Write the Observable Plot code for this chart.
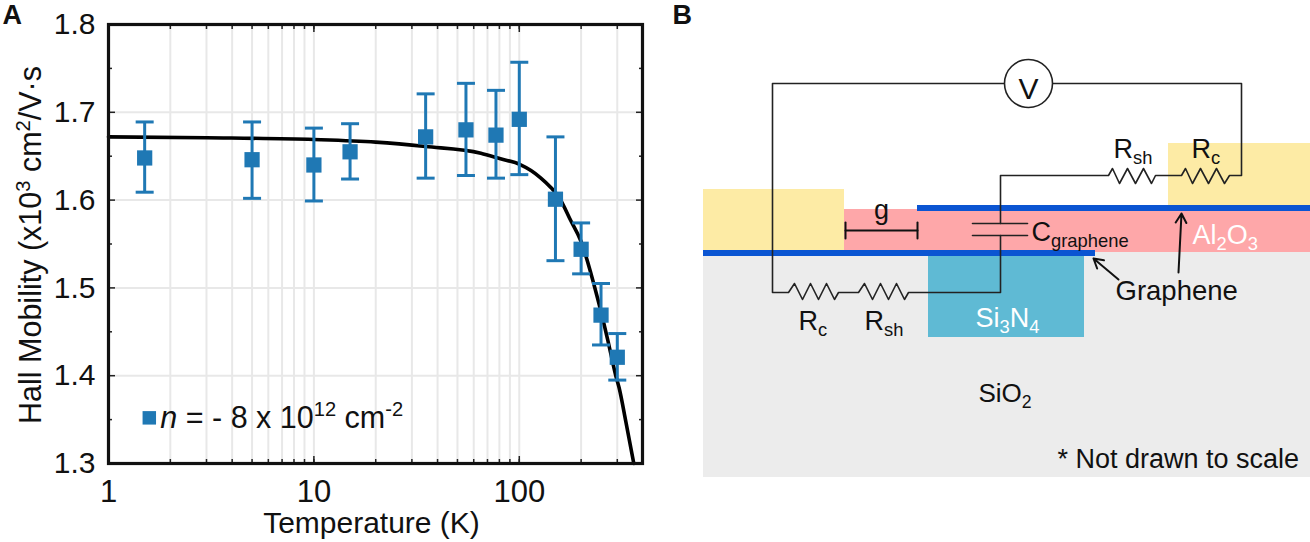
<!DOCTYPE html>
<html>
<head>
<meta charset="utf-8">
<script src="https://cdn.jsdelivr.net/npm/d3@7"></script>
<script src="https://cdn.jsdelivr.net/npm/@observablehq/plot@0.6"></script>
<style>
  html, body { margin: 0; padding: 0; background: #fff; }
  #wrap { position: relative; width: 1310px; height: 542px; overflow: hidden; font-family: "Liberation Sans", Arial, sans-serif; }
  #a, #b { position: absolute; top: 0; }
  #a { left: 0; } #b { left: 660px; }
  svg { display: block; }
</style>
</head>
<body>
<div id="wrap"><div id="a"></div><div id="b"></div></div>
<script>
// ---------- Panel A data ----------
const temperature = [1.5, 5, 10, 15, 35, 55, 77, 100, 150, 200, 250, 300];
const mobility    = [1.648, 1.646, 1.640, 1.655, 1.672, 1.680, 1.674, 1.692, 1.601, 1.544, 1.469, 1.421];
const errLow      = [1.609, 1.602, 1.599, 1.624, 1.625, 1.628, 1.625, 1.629, 1.531, 1.516, 1.435, 1.395];
const errHigh     = [1.689, 1.689, 1.682, 1.687, 1.721, 1.733, 1.725, 1.757, 1.672, 1.574, 1.505, 1.448];
const fitT = [1, 3, 10, 20, 35, 65, 81, 101, 114, 127, 142, 156, 178, 199, 240, 270, 295, 306, 330, 361];
const fitM = [1.672, 1.671, 1.669, 1.666, 1.661, 1.6534, 1.647, 1.6405, 1.6337, 1.6254, 1.6147, 1.6033, 1.5768, 1.554, 1.489, 1.440, 1.400, 1.3865, 1.348, 1.300];
const xMajor = [1, 10, 100];
const xGrid = [2,3,4,5,6,7,8,9,10,20,30,40,50,60,70,80,90,100,200,300];
const yMajor = [1.3, 1.4, 1.5, 1.6, 1.7, 1.8];
const yMinor = [1.35, 1.45, 1.55, 1.65, 1.75];
const legendEntry = [{t: 1.58, m: 1.352, label: "*n* = - 8 x 10^{12} cm^{-2}"}];
const points = temperature.map((t, i) => ({t, m: mobility[i], lo: errLow[i], hi: errHigh[i]}));
const fit = fitT.map((t, i) => ({t, m: fitM[i]}));

// ---------- Panel B data (schematic units) ----------
const layers = [
  {name: "SiO2",  x1: 703,  x2: 1310, y1: 250, y2: 477, c: "#ececec"},
  {name: "Al2O3", x1: 844,  x2: 1310, y1: 209, y2: 252, c: "#fea7a9"},
  {name: "metalL",x1: 703,  x2: 844,  y1: 189, y2: 250, c: "#fdeba5"},
  {name: "metalR",x1: 1168, x2: 1310, y1: 143, y2: 205, c: "#fdeba5"},
  {name: "Si3N4", x1: 928,  x2: 1084, y1: 256, y2: 337, c: "#5fbad4"},
  {name: "grTop", x1: 917,  x2: 1310, y1: 205, y2: 211, c: "#0b55d2"},
  {name: "grBot", x1: 703,  x2: 1095, y1: 250, y2: 256, c: "#0b55d2"}
];
const wireLeft = [[1004,83],[772,83],[772,292],[788,292],[794,283],[802,299],[810,283],[818,299],[826,283],[834,299],[838,292],[858,292],[864,283],[872,299],[880,283],[888,299],[896,283],[904,299],[908,292],[1000,292],[1000,235]];
const wireRight = [[1052,83],[1241,83],[1241,175],[1229,175],[1224,183],[1216,168],[1208,183],[1200,168],[1192,183],[1185,168],[1181,175],[1155,175],[1151,183],[1143,168],[1135,183],[1127,168],[1119,183],[1112,168],[1108,175],[1000,175],[1000,223]];
const plates = [[[972,223],[1027,223]],[[972,235],[1027,235]]];
const gapBar = [[[845,230],[917,230]],[[845,222],[845,238]],[[917,222],[917,238]]];
const arrows = [{x1:1118,y1:279,x2:1093,y2:258},{x1:1178,y1:272,x2:1181,y2:213}];
const labels = [
  {t:"V", x:1028, y:98, a:"middle", s:30, c:"#111"},
  {t:"g", x:881, y:218, a:"middle", s:27, c:"#111"},
  {t:"C_{graphene}", x:1031, y:240, a:"start", s:27, c:"#111"},
  {t:"Al_{2}O_{3}", x:1192, y:243, a:"start", s:27, c:"#fff"},
  {t:"Graphene", x:1115, y:299, a:"start", s:27.5, c:"#111"},
  {t:"Si_{3}N_{4}", x:975, y:326, a:"start", s:27, c:"#fff"},
  {t:"SiO_{2}", x:978, y:401, a:"start", s:26, c:"#111"},
  {t:"* Not drawn to scale", x:1057, y:467, a:"start", s:27, c:"#111"},
  {t:"R_{c}", x:798, y:329, a:"start", s:27, c:"#111"},
  {t:"R_{sh}", x:864, y:329, a:"start", s:27, c:"#111"},
  {t:"R_{sh}", x:1113, y:157, a:"start", s:27, c:"#111"},
  {t:"R_{c}", x:1191, y:157, a:"start", s:27, c:"#111"}
];

// Turn ^{..}, _{..} and *..* in text marks into tspans, keeping real text.
// The svg must already be in the document so computed font sizes are known.
function richText(svg) {
  svg.querySelectorAll("text").forEach(el => {
    const target = el.querySelector("tspan") || el;
    const src = target.textContent;
    if (!/[\^_]\{|\*[a-z]\*/.test(src)) return;
    target.textContent = "";
    const size = parseFloat(getComputedStyle(el).fontSize);
    let shift = 0;
    for (const m of src.matchAll(/\^\{([^}]*)\}|_\{([^}]*)\}|\*([a-z])\*|([^\^_*]+|[\^_*])/g)) {
      const ts = document.createElementNS("http://www.w3.org/2000/svg", "tspan");
      let want = 0;
      if (m[1] !== undefined) { ts.textContent = m[1]; want = -0.38 * size; ts.setAttribute("font-size", size * 0.66); }
      else if (m[2] !== undefined) { ts.textContent = m[2]; want = 0.24 * size; ts.setAttribute("font-size", size * 0.68); }
      else if (m[3] !== undefined) { ts.textContent = m[3]; ts.setAttribute("font-style", "italic"); }
      else ts.textContent = m[4];
      if (want !== shift) { ts.setAttribute("dy", want - shift); shift = want; }
      target.appendChild(ts);
    }
  });
  return svg;
}

const font = '"Liberation Sans", Arial, sans-serif';
const gridColor = "#e8e8e8";
const blue = "#1f78b4";
// horizontal stroke used as the error-bar cap
const capSymbol = {draw(ctx) { ctx.moveTo(-9, 0); ctx.lineTo(9, 0); }};
const tickStyle = {stroke: "#222", strokeWidth: 1.5, tickFormat: () => "", label: null};

// ---------- Panel A ----------
const chartA = Plot.plot({
  width: 660, height: 542,
  marginLeft: 108, marginRight: 18, marginTop: 24, marginBottom: 79,
  style: {fontFamily: font, background: "transparent"},
  x: {type: "log", domain: [1, 398], axis: null},
  y: {domain: [1.3, 1.8], axis: null},
  marks: [
    Plot.ruleX(xGrid, {stroke: gridColor, strokeWidth: 2}),
    Plot.ruleY(yMajor, {stroke: gridColor, strokeWidth: 2}),
    Plot.axisY({anchor: "left", ticks: yMinor, tickSize: -4, ...tickStyle}),
    Plot.axisY({anchor: "right", ticks: yMinor, tickSize: -4, ...tickStyle}),
    Plot.axisY({anchor: "left", ticks: yMajor, tickSize: -7, ...tickStyle}),
    Plot.axisY({anchor: "right", ticks: yMajor, tickSize: -7, ...tickStyle}),
    Plot.axisX({anchor: "bottom", ticks: xGrid, tickSize: -4, ...tickStyle}),
    Plot.axisX({anchor: "top", ticks: xGrid, tickSize: -4, ...tickStyle}),
    Plot.axisX({anchor: "bottom", ticks: xMajor, tickSize: -7, ...tickStyle}),
    Plot.axisX({anchor: "top", ticks: xMajor, tickSize: -7, ...tickStyle}),
    Plot.axisY({anchor: "left", ticks: yMajor, tickSize: 0, tickPadding: 13, tickFormat: d3.format(".1f"), label: null, fontSize: 30, fill: "#111"}),
    Plot.axisX({anchor: "bottom", ticks: xMajor, tickSize: 0, tickPadding: 16, tickFormat: d3.format("d"), label: null, fontSize: 31, fill: "#111"}),
    Plot.line(fit, {x: "t", y: "m", stroke: "#000", strokeWidth: 3.6, curve: "monotone-x"}),
    Plot.ruleX(points, {x: "t", y1: "lo", y2: "hi", stroke: blue, strokeWidth: 3}),
    Plot.dot(points, {x: "t", y: "lo", symbol: capSymbol, stroke: blue, strokeWidth: 3, r: 1}),
    Plot.dot(points, {x: "t", y: "hi", symbol: capSymbol, stroke: blue, strokeWidth: 3, r: 1}),
    Plot.dot(points, {x: "t", y: "m", symbol: "square", r: 8.6, fill: blue}),
    Plot.dot(legendEntry, {x: "t", y: "m", symbol: "square", r: 7.6, fill: blue}),
    Plot.text(legendEntry, {x: "t", y: "m", text: "label", dx: 11, textAnchor: "start", fontSize: 30.5, fill: "#111"}),
    Plot.frame({stroke: "#111", strokeWidth: 3.2}),
    Plot.text(["Temperature (K)"], {frameAnchor: "bottom", dx: -4, dy: 69, lineAnchor: "bottom", fontSize: 30, fill: "#111"}),
    Plot.text(["Hall Mobility (x10^{3} cm^{2}/V·s"], {frameAnchor: "left", dx: -77, dy: 1, rotate: -90, fontSize: 30.5, fill: "#111", textAnchor: "middle"}),
    Plot.text(["A"], {frameAnchor: "top-left", dx: -106, dy: -20, fontSize: 27, fontWeight: "bold", fill: "#111", textAnchor: "start", lineAnchor: "top"})
  ]
});
document.getElementById("a").appendChild(chartA);
richText(chartA);

// ---------- Panel B ----------
const toRows = (pts, id) => pts.map(p => ({x: p[0], y: p[1], id}));
const chartB = Plot.plot({
  width: 650, height: 542,
  margin: 0,
  style: {fontFamily: font, background: "transparent"},
  x: {domain: [660, 1310], range: [0, 650], axis: null},
  y: {domain: [0, 542], range: [0, 542], axis: null},
  marks: [
    Plot.rect(layers, {x1: "x1", x2: "x2", y1: "y1", y2: "y2", fill: "c"}),
    Plot.line(toRows(wireLeft, "l"), {x: "x", y: "y", stroke: "#222", strokeWidth: 1.6}),
    Plot.line(toRows(wireRight, "r"), {x: "x", y: "y", stroke: "#222", strokeWidth: 1.6}),
    ...plates.map((p, i) => Plot.line(toRows(p, "p" + i), {x: "x", y: "y", stroke: "#222", strokeWidth: 1.6})),
    ...gapBar.map((p, i) => Plot.line(toRows(p, "g" + i), {x: "x", y: "y", stroke: "#111", strokeWidth: 2})),
    Plot.dot([{x: 1028, y: 83}], {x: "x", y: "y", r: 24, fill: "#fff", stroke: "#222", strokeWidth: 1.6}),
    Plot.arrow(arrows, {x1: "x1", y1: "y1", x2: "x2", y2: "y2", stroke: "#111", strokeWidth: 2, headLength: 8, bend: 0}),
    ...labels.map(l => Plot.text([l], {x: "x", y: "y", text: "t", textAnchor: l.a, lineAnchor: "bottom", fontSize: l.s, fill: l.c})),
    Plot.text(["B"], {frameAnchor: "top-left", dx: 12, dy: 4, fontSize: 27, fontWeight: "bold", fill: "#111", lineAnchor: "top", textAnchor: "start"})
  ]
});
document.getElementById("b").appendChild(chartB);
richText(chartB);
</script>
</body>
</html>
